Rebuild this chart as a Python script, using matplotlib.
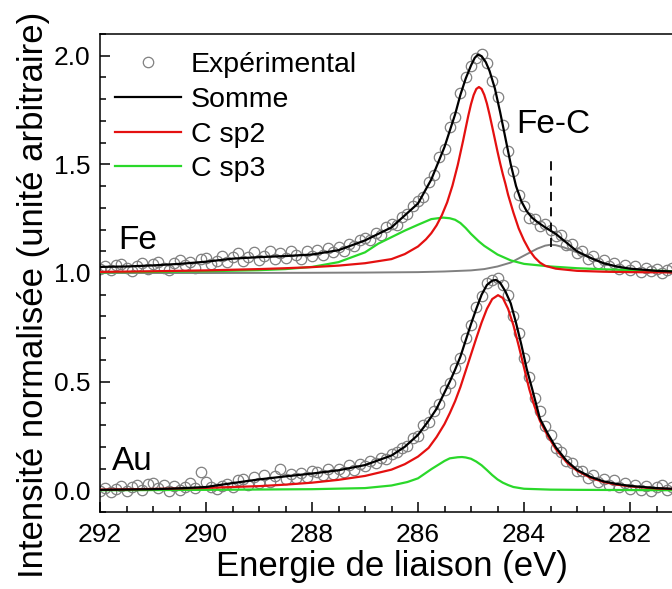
import numpy as np
import matplotlib.pyplot as plt
from matplotlib.ticker import MultipleLocator
from matplotlib.lines import Line2D

plt.rcParams['font.family'] = ['Liberation Sans', 'DejaVu Sans']

# experimental points, one every 0.1 eV starting at 292.0 eV
fe_exp = [1.02, 1.03, 1.015, 1.035, 1.04, 1.025, 1.01, 1.03, 1.045, 1.02,
          1.04, 1.05, 1.025, 1.015, 1.045, 1.06, 1.035, 1.05, 1.025, 1.065,
          1.07, 1.04, 1.055, 1.08, 1.05, 1.075, 1.09, 1.055, 1.075, 1.095,
          1.06, 1.08, 1.1, 1.065, 1.09, 1.07, 1.1, 1.085, 1.065, 1.1,
          1.08, 1.105, 1.085, 1.115, 1.095, 1.12, 1.1, 1.135, 1.125, 1.15,
          1.16, 1.15, 1.185, 1.175, 1.21, 1.225, 1.22, 1.26, 1.27, 1.31,
          1.33, 1.35, 1.42, 1.45, 1.535, 1.57, 1.67, 1.72, 1.83, 1.9,
          1.955, 1.99, 2.01, 1.965, 1.885, 1.81, 1.68, 1.56, 1.47, 1.36,
          1.31, 1.255, 1.25, 1.215, 1.225, 1.2, 1.17, 1.175, 1.13, 1.135,
          1.09, 1.1, 1.065, 1.08, 1.045, 1.06, 1.03, 1.045, 1.02, 1.035,
          1.015, 1.03, 1.005, 1.025, 1.01, 1.02, 1.0, 1.015, 1.025, 1.0,
          1.01, 1.0, 1.015]
au_exp = [-0.005, 0.01, -0.01, 0.005, 0.02, -0.005, 0.015, 0.025, 0.0, 0.03,
          0.035, 0.01, 0.025, -0.005, 0.02, 0.0, 0.015, 0.035, 0.01, 0.085,
          0.04, 0.015, 0.005, 0.02, 0.03, 0.015, 0.045, 0.05, 0.025, 0.06,
          0.035, 0.07, 0.04, 0.065, 0.1, 0.05, 0.075, 0.055, 0.08, 0.06,
          0.09, 0.085, 0.07, 0.1, 0.075, 0.1, 0.085, 0.115, 0.095, 0.12,
          0.11, 0.135, 0.125, 0.15, 0.145, 0.165, 0.175, 0.195, 0.205, 0.24,
          0.25, 0.3, 0.315, 0.365, 0.395, 0.46, 0.495, 0.565, 0.61, 0.7,
          0.76, 0.845, 0.895, 0.955, 0.97, 0.975, 0.945, 0.9, 0.8, 0.725,
          0.61, 0.52, 0.425, 0.365, 0.295, 0.255, 0.195, 0.175, 0.135, 0.125,
          0.09, 0.09, 0.055, 0.07, 0.04, 0.05, 0.025, 0.045, 0.015, 0.035,
          0.005, 0.025, 0.0, 0.02, -0.005, 0.015, 0.025, 0.0, 0.015, -0.01,
          0.01, 0.02, 0.0]

# fitted curves (energy, intensity)
fe_sum_e = [292.0, 291.5, 291.0, 290.5, 290.0, 289.5, 289.0, 288.5, 288.0, 287.5,
            287.0, 286.5, 286.0, 285.75, 285.5, 285.3, 285.2, 285.1, 285.0, 284.93,
            284.87, 284.8, 284.72, 284.65, 284.55, 284.45, 284.35, 284.25, 284.15, 284.05,
            283.95, 283.85, 283.75, 283.6, 283.4, 283.2, 283.0, 282.75, 282.5, 282.25,
            282.0, 281.5, 281.0, 280.5]
fe_sum = [1.028, 1.030, 1.035, 1.042, 1.052, 1.066, 1.073, 1.078, 1.085, 1.105,
          1.15, 1.21, 1.32, 1.43, 1.58, 1.73, 1.82, 1.895, 1.955, 1.99,
          2.005, 1.998, 1.97, 1.93, 1.85, 1.74, 1.62, 1.50, 1.40, 1.33,
          1.285, 1.255, 1.235, 1.21, 1.18, 1.14, 1.10, 1.07, 1.045, 1.03,
          1.02, 1.01, 1.005, 1.003]

fe_sp2_e = [292.0, 291.0, 290.0, 289.0, 288.5, 288.0, 287.5, 287.0, 286.5, 286.25,
            286.0, 285.85, 285.75, 285.65, 285.55, 285.45, 285.35, 285.25, 285.15, 285.1,
            285.05, 285.0, 284.95, 284.9, 284.85, 284.8, 284.75, 284.7, 284.65, 284.6,
            284.55, 284.5, 284.45, 284.4, 284.35, 284.3, 284.2, 284.1, 284.0, 283.9,
            283.8, 283.7, 283.6, 283.4, 283.0, 282.5, 282.0, 281.0, 280.5]
fe_sp2 = [1.005, 1.008, 1.012, 1.018, 1.022, 1.027, 1.034, 1.045, 1.064, 1.087,
          1.122, 1.155, 1.183, 1.219, 1.266, 1.325, 1.402, 1.497, 1.608, 1.667,
          1.725, 1.777, 1.819, 1.847, 1.856, 1.847, 1.82, 1.78, 1.729, 1.673,
          1.616, 1.559, 1.505, 1.455, 1.41, 1.36, 1.278, 1.205, 1.15, 1.105,
          1.072, 1.048, 1.033, 1.02, 1.01, 1.006, 1.004, 1.002, 1.001]

fe_sp3_e = [292.0, 291.0, 290.0, 289.0, 288.5, 288.0, 287.5, 287.0, 286.75, 286.5,
            286.25, 286.0, 285.75, 285.53, 285.4, 285.3, 285.2, 285.1, 285.0, 284.85,
            284.75, 284.5, 284.25, 284.0, 283.5, 283.0, 282.5, 282.0, 281.5, 281.0,
            280.5]
fe_sp3 = [1.003, 1.005, 1.008, 1.013, 1.018, 1.028, 1.05, 1.095, 1.135, 1.165,
          1.195, 1.222, 1.248, 1.255, 1.252, 1.245, 1.23, 1.207, 1.18, 1.145,
          1.125, 1.085, 1.058, 1.042, 1.03, 1.022, 1.017, 1.013, 1.01, 1.007,
          1.005]

fe_fec_e = [292.0, 290.0, 288.0, 287.0, 286.0, 285.5, 285.0, 284.75, 284.5, 284.25,
            284.0, 283.75, 283.6, 283.5, 283.4, 283.25, 283.1, 283.0, 282.75, 282.5,
            282.25, 282.0, 281.5, 281.0, 280.5]
fe_fec = [1.0, 1.0, 1.001, 1.002, 1.004, 1.007, 1.012, 1.018, 1.03, 1.048,
          1.08, 1.112, 1.126, 1.13, 1.128, 1.118, 1.104, 1.095, 1.07, 1.045,
          1.028, 1.018, 1.009, 1.005, 1.003]

au_sum_e = [292.0, 291.0, 290.5, 290.0, 289.5, 289.0, 288.5, 288.0, 287.5, 287.0,
            286.5, 286.25, 286.0, 285.8, 285.65, 285.5, 285.4, 285.3, 285.2, 285.1,
            285.0, 284.9, 284.8, 284.7, 284.6, 284.53, 284.45, 284.35, 284.25, 284.15,
            284.05, 283.95, 283.85, 283.7, 283.55, 283.4, 283.2, 283.0, 282.75, 282.5,
            282.25, 282.0, 281.5, 281.0, 280.5]
au_sum = [0.002, 0.005, 0.009, 0.015, 0.033, 0.05, 0.064, 0.077, 0.092, 0.116,
          0.16, 0.2, 0.255, 0.32, 0.375, 0.45, 0.5, 0.555, 0.615, 0.69,
          0.765, 0.835, 0.9, 0.945, 0.965, 0.968, 0.955, 0.915, 0.86, 0.77,
          0.67, 0.56, 0.47, 0.33, 0.26, 0.198, 0.137, 0.094, 0.062, 0.041,
          0.029, 0.02, 0.01, 0.005, 0.003]

au_sp2_e = [292.0, 291.0, 290.0, 289.0, 288.5, 288.0, 287.5, 287.0, 286.5, 286.25,
            286.0, 285.8, 285.65, 285.5, 285.4, 285.3, 285.2, 285.1, 285.0, 284.9,
            284.8, 284.7, 284.6, 284.49, 284.4, 284.3, 284.2, 284.1, 284.0, 283.9,
            283.8, 283.7, 283.55, 283.4, 283.2, 283.0, 282.75, 282.5, 282.25, 282.0,
            281.5, 281.0, 280.5]
au_sp2 = [0.003, 0.006, 0.011, 0.019, 0.026, 0.035, 0.048, 0.066, 0.095, 0.12,
          0.155, 0.195, 0.245, 0.305, 0.355, 0.41, 0.475, 0.55, 0.625, 0.70,
          0.772, 0.835, 0.88, 0.898, 0.885, 0.835, 0.76, 0.665, 0.565, 0.465,
          0.385, 0.32, 0.25, 0.19, 0.13, 0.09, 0.058, 0.038, 0.026, 0.018,
          0.008, 0.004, 0.002]

au_sp3_e = [292.0, 290.0, 288.0, 287.0, 286.5, 286.2, 286.0, 285.75, 285.5, 285.4,
            285.25, 285.17, 285.1, 285.0, 284.9, 284.8, 284.7, 284.6, 284.5, 284.4,
            284.3, 284.2, 284.0, 283.5, 283.0, 282.0, 281.0, 280.5]
au_sp3 = [0.0, 0.002, 0.005, 0.01, 0.022, 0.038, 0.055, 0.097, 0.135, 0.147,
          0.152, 0.153, 0.151, 0.145, 0.132, 0.115, 0.093, 0.07, 0.05, 0.035,
          0.024, 0.015, 0.007, 0.003, 0.002, 0.001, 0.0, 0.0]

exp_e = 292.0 - 0.1 * np.arange(len(fe_exp))

RED = '#e41010'
GREEN = '#2ad82a'
GRAY = '#808080'

fig = plt.figure(figsize=(6.72, 5.89), dpi=100)
# right edge of the frame runs past the picture, like the reference crop
ax = fig.add_axes([100 / 672, 77 / 589, 583 / 672, 478 / 589])

for y in (fe_exp, au_exp):
    ax.plot(exp_e, y, 'o', mfc='none', mec=GRAY, ms=7.5, mew=0.9, zorder=1)

ax.plot(fe_fec_e, fe_fec, color=GRAY, lw=1.4, zorder=2)
ax.plot(fe_sp3_e, fe_sp3, color=GREEN, lw=1.6, zorder=3)
ax.plot(fe_sp2_e, fe_sp2, color=RED, lw=1.6, zorder=4)
ax.plot(fe_sum_e, fe_sum, color='black', lw=1.6, zorder=5)
ax.plot(au_sp3_e, au_sp3, color=GREEN, lw=1.6, zorder=3)
ax.plot(au_sp2_e, au_sp2, color=RED, lw=1.6, zorder=4)
ax.plot(au_sum_e, au_sum, color='black', lw=1.6, zorder=5)

# Fe-C marker
ax.plot([283.5, 283.5], [1.12, 1.53], color='black', lw=1.3, ls=(0, (5, 3.5)), zorder=6)
ax.text(283.45, 1.685, 'Fe-C', fontsize=24, ha='center', va='center')
ax.text(291.66, 1.15, 'Fe', fontsize=24, ha='left', va='center')
ax.text(291.77, 0.132, 'Au', fontsize=24, ha='left', va='center')

ax.set_xlim(292, 281)
ax.set_ylim(-0.1, 2.1)
ax.xaxis.set_major_locator(MultipleLocator(2))
ax.xaxis.set_minor_locator(MultipleLocator(0.5))
ax.yaxis.set_major_locator(MultipleLocator(0.5))
ax.yaxis.set_minor_locator(MultipleLocator(0.1))
ax.tick_params(which='both', direction='in', width=1.1, labelsize=19)
ax.tick_params(which='major', length=7)
ax.tick_params(which='minor', length=4)
ax.tick_params(axis='x', pad=8)
ax.tick_params(axis='y', pad=7)
ax.xaxis.set_major_formatter(plt.FuncFormatter(lambda v, p: '%d' % v))
ax.yaxis.set_major_formatter(plt.FuncFormatter(lambda v, p: '%.1f' % v))
for sp in ax.spines.values():
    sp.set_linewidth(1.1)

ax.set_xlabel('Energie de liaison (eV)', fontsize=25, labelpad=2)
ax.set_ylabel('Intensité normalisée (unité arbitraire)', fontsize=25)
ax.yaxis.set_label_coords(-0.085, 0.454)

handles = [Line2D([], [], ls='none', marker='o', mfc='none', mec=GRAY, ms=7.5, mew=0.9),
           Line2D([], [], color='black', lw=1.6),
           Line2D([], [], color=RED, lw=1.6),
           Line2D([], [], color=GREEN, lw=1.6)]
ax.legend(handles, ['Expérimental', 'Somme', 'C sp2', 'C sp3'], loc='upper left',
          bbox_to_anchor=(0.0, 0.993), frameon=False, fontsize=20.5, handlelength=2.3,
          handletextpad=0.35, labelspacing=0.3, borderaxespad=0.13)

fig.savefig('out.png', dpi=100)
